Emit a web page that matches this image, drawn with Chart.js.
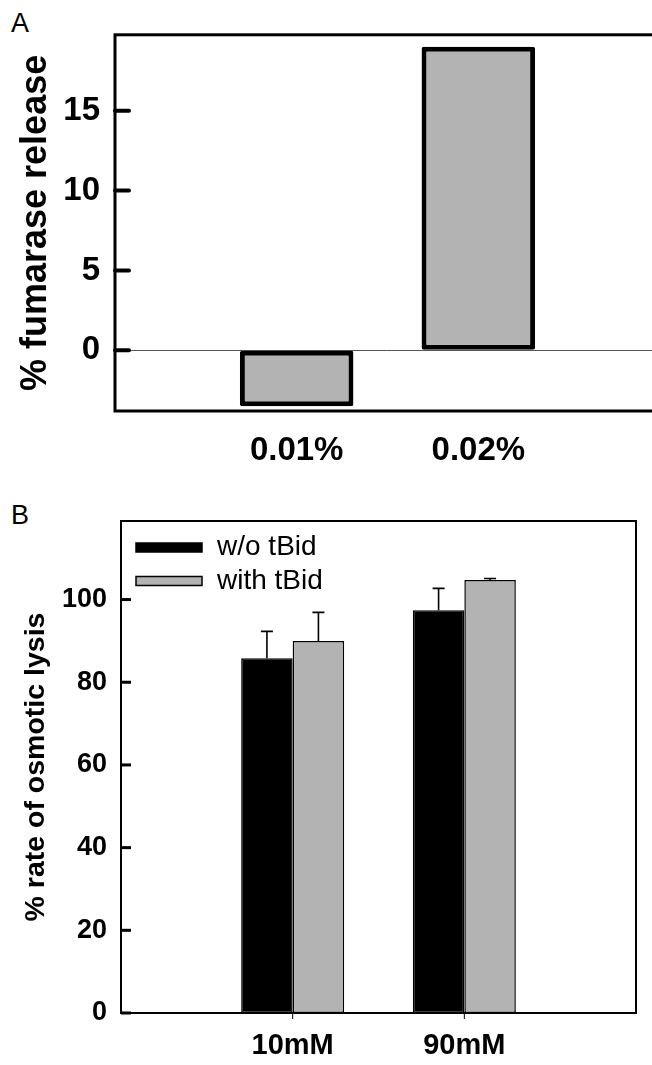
<!DOCTYPE html>
<html>
<head>
<meta charset="utf-8">
<script src="https://cdn.jsdelivr.net/npm/chart.js@4.4.1/dist/chart.umd.min.js"></script>
<style>
  html, body { margin: 0; padding: 0; background: #fff; width: 652px; height: 1065px; overflow: hidden; }
  .panel-letter { position: absolute; font-family: "Liberation Sans", Arial, sans-serif; font-size: 27px; color: #000; line-height: 1; }
  #wrapA { position: absolute; left: 0; top: 0; width: 680px; height: 480px; }
  #wrapB { position: absolute; left: 0; top: 490px; width: 652px; height: 575px; }
</style>
</head>
<body>
<div class="panel-letter" style="left:11px; top:10px;">A</div>
<div class="panel-letter" style="left:11px; top:502px;">B</div>
<div id="wrapA"><canvas id="chartA" width="680" height="480"></canvas></div>
<div id="wrapB"><canvas id="chartB" width="652" height="575"></canvas></div>
<script>
// ---------- Panel A data ----------
const categoriesA = ['', '0.01%', '0.02%', ''];
const fumaraseRelease = [null, -3.5, 19.0, null];
const yTicksA = [0, 5, 10, 15];

// ---------- Panel B data ----------
const categoriesB = ['', '10mM', '90mM', ''];
const withoutTBid = [null, 85.8, 97.4, null];
const withoutTBidErr = [null, 6.5, 5.3, null];
const withTBid = [null, 90.0, 104.7, null];
const withTBidErr = [null, 6.9, 0.4, null];
const yTicksB = [0, 20, 40, 60, 80, 100];

const FONT = '"Liberation Sans", Arial, sans-serif';
Chart.defaults.color = '#000';
Chart.defaults.font.family = FONT;

// Plugin: frame, inward y ticks, outward x ticks, error bars, legend
const decorPlugin = {
  id: 'decor',
  afterDatasetsDraw(chart, args, opts) {
    const ctx = chart.ctx;
    const ca = chart.chartArea;
    const ys = chart.scales.y;
    const xs = chart.scales.x;
    ctx.save();
    if (opts.errors) {
      chart.data.datasets.forEach((ds, i) => {
        const errs = opts.errors[i];
        if (!errs) return;
        const meta = chart.getDatasetMeta(i);
        meta.data.forEach((el, j) => {
          const v = ds.data[j], e = errs[j];
          if (v == null || e == null) return;
          const y0 = ys.getPixelForValue(v);
          const y1 = ys.getPixelForValue(v + e);
          ctx.strokeStyle = '#000';
          ctx.lineWidth = 1.6;
          ctx.beginPath();
          ctx.moveTo(el.x, y0);
          ctx.lineTo(el.x, y1);
          ctx.moveTo(el.x - opts.capHalf, y1);
          ctx.lineTo(el.x + opts.capHalf, y1);
          ctx.stroke();
        });
      });
    }
    ctx.strokeStyle = '#000';
    ctx.lineWidth = opts.frameWidth;
    ctx.strokeRect(ca.left, ca.top, ca.right - ca.left, ca.bottom - ca.top);
    ctx.lineWidth = opts.yTickWidth;
    ctx.lineCap = opts.yTickCap || 'butt';
    ys.ticks.forEach(t => {
      const y = ys.getPixelForValue(t.value);
      ctx.beginPath();
      ctx.moveTo(ca.left, y);
      ctx.lineTo(ca.left + opts.yTickLen, y);
      ctx.stroke();
    });
    ctx.lineCap = 'butt';
    if (opts.xTickLen) {
      ctx.lineWidth = 1;
      chart.data.labels.forEach((lab, i) => {
        if (!lab) return;
        const x = xs.getPixelForValue(i);
        ctx.beginPath();
        ctx.moveTo(x, ca.bottom);
        ctx.lineTo(x, ca.bottom + opts.xTickLen);
        ctx.stroke();
      });
    }
    if (opts.legend) {
      const L = opts.legend;
      ctx.font = L.font;
      ctx.textBaseline = 'middle';
      ctx.textAlign = 'left';
      chart.data.datasets.forEach((ds, i) => {
        const cy = ca.top + L.firstY + i * L.rowGap;
        const x0 = ca.left + L.boxX;
        ctx.fillStyle = ds.backgroundColor;
        ctx.fillRect(x0, cy - L.boxH / 2, L.boxW, L.boxH);
        ctx.lineWidth = 1.5;
        ctx.strokeStyle = '#000';
        ctx.strokeRect(x0, cy - L.boxH / 2, L.boxW, L.boxH);
        ctx.fillStyle = '#000';
        ctx.fillText(ds.label, ca.left + L.textX, cy);
      });
    }
    ctx.restore();
  }
};

// ---------- Chart A ----------
new Chart(document.getElementById('chartA'), {
  type: 'bar',
  data: {
    labels: categoriesA,
    datasets: [{
      label: '% fumarase release',
      data: fumaraseRelease,
      backgroundColor: '#b3b3b3',
      borderColor: '#000',
      borderWidth: 5,
      borderSkipped: false,
      borderRadius: 2,
      categoryPercentage: 0.625,
      barPercentage: 1.0
    }]
  },
  options: {
    responsive: false,
    animation: false,
    layout: { padding: { left: 0, top: 30, right: 19, bottom: 0 } },
    plugins: {
      legend: { display: false },
      tooltip: { enabled: false },
      decor: { frameWidth: 3, yTickWidth: 4, yTickLen: 14, yTickCap: 'round' }
    },
    scales: {
      x: {
        offset: false,
        grid: { display: false, drawTicks: false },
        border: { display: false },
        ticks: { font: { size: 33, weight: 'bold' }, padding: 20, maxRotation: 0, autoSkip: false },
        afterFit: s => { s.height = 69; }
      },
      y: {
        min: -3.8,
        max: 19.75,
        afterBuildTicks: s => { s.ticks = yTicksA.map(v => ({ value: v })); },
        grid: {
          drawTicks: false,
          lineWidth: 1,
          color: c => (c.tick && c.tick.value === 0) ? '#555' : 'rgba(0,0,0,0)'
        },
        border: { display: false },
        ticks: { font: { size: 33, weight: 'bold' }, padding: 15 },
        title: {
          display: true,
          text: '% fumarase release',
          font: { size: 36, weight: 'bold' },
          padding: { top: 14, bottom: 0 }
        },
        afterFit: s => { s.width = 115; }
      }
    }
  },
  plugins: [decorPlugin]
});

// ---------- Chart B ----------
new Chart(document.getElementById('chartB'), {
  type: 'bar',
  data: {
    labels: categoriesB,
    datasets: [{
      label: 'w/o tBid',
      data: withoutTBid,
      backgroundColor: '#000',
      borderColor: '#000',
      borderWidth: 1.5,
      borderSkipped: false,
      categoryPercentage: 0.6,
      barPercentage: 1.0
    }, {
      label: 'with tBid',
      data: withTBid,
      backgroundColor: '#b3b3b3',
      borderColor: '#000',
      borderWidth: 1.5,
      borderSkipped: false,
      categoryPercentage: 0.6,
      barPercentage: 1.0
    }]
  },
  options: {
    responsive: false,
    animation: false,
    layout: { padding: { left: 0, top: 31, right: 9, bottom: 0 } },
    plugins: {
      legend: { display: false },
      tooltip: { enabled: false },
      decor: {
        frameWidth: 2, yTickWidth: 3, yTickLen: 10, xTickLen: 6,
        errors: [withoutTBidErr, withTBidErr], capHalf: 6,
        legend: { font: '28px ' + FONT, firstY: 26.5, rowGap: 33.5, boxX: 15, boxW: 66, boxH: 9, textX: 96 }
      }
    },
    scales: {
      x: {
        offset: false,
        grid: { display: false, drawTicks: false },
        border: { display: false },
        ticks: { font: { size: 29, weight: 'bold' }, padding: 16, maxRotation: 0, autoSkip: false },
        afterFit: s => { s.height = 52; }
      },
      y: {
        min: 0,
        max: 119,
        afterBuildTicks: s => { s.ticks = yTicksB.map(v => ({ value: v })); },
        grid: { display: false, drawTicks: false },
        border: { display: false },
        ticks: { font: { size: 27, weight: 'bold' }, padding: 14 },
        title: {
          display: true,
          text: '% rate of osmotic lysis',
          font: { size: 28.5, weight: 'bold' },
          padding: { top: 19, bottom: 0 }
        },
        afterFit: s => { s.width = 121; }
      }
    }
  },
  plugins: [decorPlugin]
});
</script>
</body>
</html>
